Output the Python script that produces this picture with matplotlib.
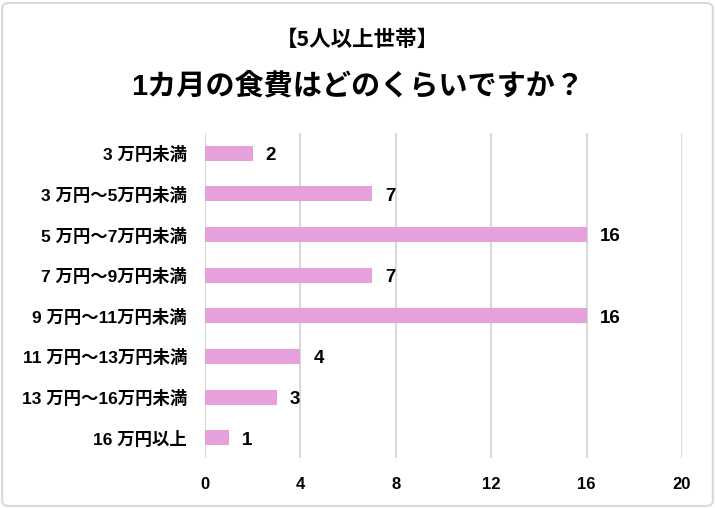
import matplotlib
matplotlib.use("Agg")
import matplotlib.pyplot as plt
from matplotlib.patches import FancyBboxPatch

plt.rcParams['font.family'] = ['Liberation Sans', 'Noto Sans CJK JP', 'DejaVu Sans']

categories = ["3 万円未満", "3 万円～5万円未満", "5 万円～7万円未満", "7 万円～9万円未満",
              "9 万円～11万円未満", "11 万円～13万円未満", "13 万円～16万円未満", "16 万円以上"]
values = [2, 7, 16, 7, 16, 4, 3, 1]
xticks = [0, 4, 8, 12, 16, 20]
title1 = "【5人以上世帯】"
title2 = "1カ月の食費はどのくらいですか？"

W, H = 715, 508
fig = plt.figure(figsize=(W / 100, H / 100), dpi=100)
fig.patches.append(FancyBboxPatch((0.003, 0.004), 0.994, 0.99, boxstyle="round,pad=0,rounding_size=0.01",
                                  transform=fig.transFigure, fill=False, edgecolor="#d9d9d9", linewidth=1.5))
ax = fig.add_axes([205 / W, 1 - 458 / H, (682 - 205) / W, (458 - 133) / H])
y = list(range(len(categories)))
ax.barh(y, values, height=0.37, color="#E6A0DC", zorder=3)
for yi, v in zip(y, values):
    ax.text(v + 0.55, yi + 0.17, str(v), va="baseline", ha="left", fontsize=13.5, fontweight="bold",
            color="#000000")
ax.set_ylim(len(categories) - 0.5, -0.5)
ax.set_xlim(0, 20)
ax.set_xticks(xticks)
ax.set_xticklabels([str(t) for t in xticks], fontsize=12, fontweight="bold")
ax.set_yticks(y)
ax.set_yticklabels(categories, fontsize=12.5, fontweight="bold")
ax.tick_params(axis="both", length=0)
ax.tick_params(axis="x", pad=14)
ax.tick_params(axis="y", pad=13)
ax.grid(axis="x", color="#d9d9d9", linewidth=1.5, zorder=0)
for s in ax.spines.values():
    s.set_visible(False)

fig.text(0.5, 1 - 39 / H, title1, ha="center", va="center", fontsize=15.5, fontweight="bold",
         family=['Noto Sans CJK JP', 'DejaVu Sans'])
fig.text(0.5, 1 - 87 / H, title2, ha="center", va="center", fontsize=21, fontweight="bold",
         family=['Liberation Sans', 'Noto Sans CJK JP', 'DejaVu Sans'])

fig.savefig("out.png", dpi=100)
